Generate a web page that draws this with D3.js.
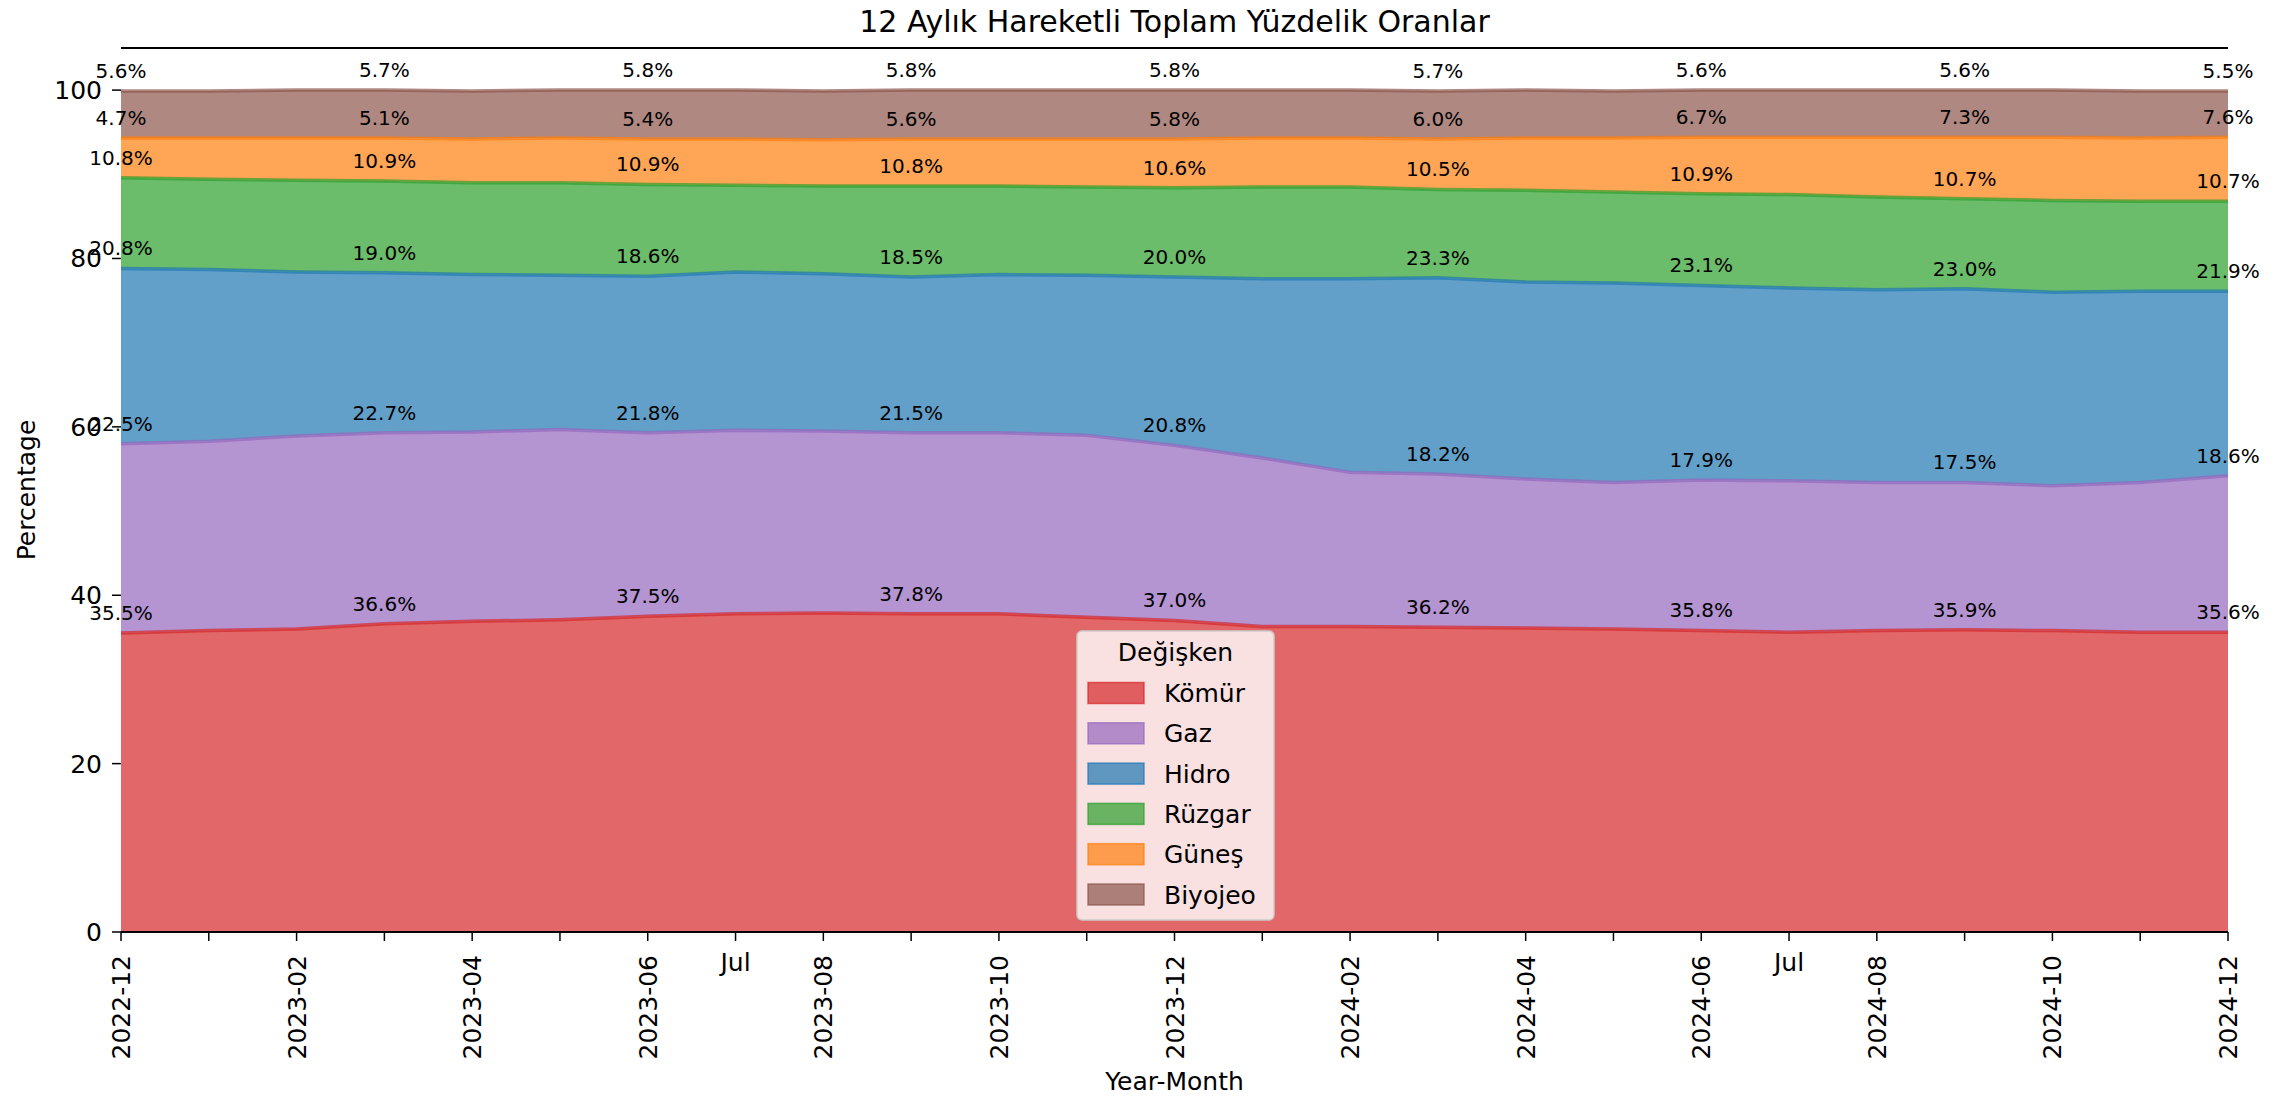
<!DOCTYPE html>
<html><head><meta charset="utf-8">
<script src="https://cdn.jsdelivr.net/npm/d3@7"></script>
<style>
body{margin:0;background:#fff;}
svg text{font-family:"DejaVu Sans",sans-serif;fill:#000;}
</style>
</head><body>
<svg id="chart" width="2287" height="1100"></svg>
<script>
const months = ["2022-12","2023-01","2023-02","2023-03","2023-04","2023-05","2023-06","2023-07","2023-08","2023-09","2023-10","2023-11","2023-12",
  "2024-01","2024-02","2024-03","2024-04","2024-05","2024-06","2024-07","2024-08","2024-09","2024-10","2024-11","2024-12"];
const seriesNames = ["Kömür","Gaz","Hidro","Rüzgar","Güneş","Biyojeo"];
const komur  = [35.5,35.8,36.0,36.6,36.9,37.1,37.5,37.8,37.9,37.8,37.8,37.4,37.0,36.3,36.3,36.2,36.1,36.0,35.8,35.6,35.8,35.9,35.8,35.6,35.6];
const gaz    = [22.5,22.5,22.9,22.7,22.5,22.6,21.8,21.8,21.6,21.5,21.5,21.6,20.8,20.0,18.3,18.2,17.7,17.4,17.9,18.0,17.6,17.5,17.2,17.8,18.6];
const hidro  = [20.8,20.4,19.5,19.0,18.7,18.3,18.6,18.8,18.7,18.5,18.8,19.0,20.0,21.3,23.0,23.3,23.4,23.7,23.1,22.9,22.9,23.0,23.0,22.7,21.9];
const ruzgar = [10.8,10.7,10.9,10.9,10.9,11.0,10.9,10.3,10.4,10.8,10.5,10.5,10.6,10.9,10.9,10.5,10.9,10.8,10.9,11.1,11.0,10.7,10.9,10.7,10.7];
const gunes  = [4.7,4.9,5.0,5.1,5.2,5.3,5.4,5.5,5.5,5.6,5.6,5.7,5.8,5.8,5.8,6.0,6.2,6.4,6.7,6.8,7.1,7.3,7.5,7.5,7.6];
const biyojeo= [5.6,5.6,5.7,5.7,5.7,5.7,5.8,5.8,5.8,5.8,5.8,5.8,5.8,5.7,5.7,5.7,5.7,5.6,5.6,5.6,5.6,5.6,5.6,5.6,5.5];
const colors = ["#d62728","#9467bd","#1f77b4","#2ca02c","#ff7f0e","#8c564b"];
const yTicks = [0,20,40,60,80,100];
const titleText = "12 Aylık Hareketli Toplam Yüzdelik Oranlar";
const xLabelText = "Year-Month";
const yLabelText = "Percentage";
const legendTitle = "Değişken";

const valuesList = [komur,gaz,hidro,ruzgar,gunes,biyojeo];
const rows = months.map((m,i)=>{const r={month:m}; seriesNames.forEach((s,k)=>r[s]=valuesList[k][i]); return r;});

const L=121, R=2228, T=48, B=932;
const svg = d3.select("#chart");
const x = d3.scalePoint().domain(months).range([L,R]);
const y = d3.scaleLinear().domain([0,105]).range([B,T]);

const stacked = d3.stack().keys(seriesNames)(rows);
const area = d3.area().x(d=>x(d.data.month)).y0(d=>y(d[0])).y1(d=>y(d[1]));
const line = d3.line().x(d=>x(d.data.month)).y(d=>y(d[1]));

const g = svg.append("g");
g.selectAll("path.area").data(stacked).join("path")
  .attr("d",area).attr("fill",(d,i)=>colors[i]).attr("fill-opacity",0.7).attr("stroke","none");
g.selectAll("path.line").data(stacked).join("path")
  .attr("d",line).attr("fill","none").attr("stroke",(d,i)=>colors[i]).attr("stroke-opacity",0.7).attr("stroke-width",3.5);

// spines (top & bottom)
svg.append("line").attr("x1",L).attr("x2",R).attr("y1",T).attr("y2",T).attr("stroke","#000").attr("stroke-width",2);
svg.append("line").attr("x1",L).attr("x2",R).attr("y1",B).attr("y2",B).attr("stroke","#000").attr("stroke-width",2);

// y axis
const yAxis = svg.append("g");
yTicks.forEach(t=>{
  yAxis.append("line").attr("x1",L-9).attr("x2",L).attr("y1",y(t)).attr("y2",y(t)).attr("stroke","#000").attr("stroke-width",1.5);
  yAxis.append("text").attr("x",L-19).attr("y",y(t)).attr("dy","0.36em").attr("text-anchor","end").attr("font-size",25).text(t);
});

// x axis ticks
const xAxis = svg.append("g");
months.forEach((m,i)=>{
  const xx = x(m);
  xAxis.append("line").attr("x1",xx).attr("x2",xx).attr("y1",B).attr("y2",B+9).attr("stroke","#000").attr("stroke-width",1.5);
  if(i%2===0){
    xAxis.append("text").attr("transform",`translate(${xx},${B+23}) rotate(-90)`)
      .attr("text-anchor","end").attr("dy","0.36em").attr("font-size",25).text(m);
  }
  if(m.endsWith("-07")){
    xAxis.append("text").attr("x",xx).attr("y",B+39).attr("text-anchor","middle").attr("font-size",25).text("Jul");
  }
});

// value labels every 3 months
const lab = svg.append("g");
stacked.forEach((s,k)=>{
  s.forEach((d,i)=>{
    if(i%3!==0) return;
    lab.append("text").attr("x",x(d.data.month)).attr("y",y(d[1]+1)-4.7)
      .attr("text-anchor","middle").attr("font-size",20).text(d.data[seriesNames[k]].toFixed(1)+"%");
  });
});

// title and axis labels
svg.append("text").attr("x",(L+R)/2).attr("y",32).attr("text-anchor","middle").attr("font-size",30).text(titleText);
svg.append("text").attr("x",(L+R)/2).attr("y",1090).attr("text-anchor","middle").attr("font-size",25).text(xLabelText);
svg.append("text").attr("transform",`translate(35,${(T+B)/2}) rotate(-90)`).attr("text-anchor","middle").attr("font-size",25).text(yLabelText);

// legend
const lg = svg.append("g");
const lx=1077, ly=631, lw=197, lh=289;
lg.append("rect").attr("x",lx).attr("y",ly).attr("width",lw).attr("height",lh).attr("rx",5)
  .attr("fill","#fff").attr("fill-opacity",0.8).attr("stroke","#cccccc").attr("stroke-width",1.5);
lg.append("text").attr("x",lx+lw/2).attr("y",ly+30).attr("text-anchor","middle").attr("font-size",25).text(legendTitle);
seriesNames.forEach((s,i)=>{
  const cy = ly+62+i*40.3;
  lg.append("rect").attr("x",lx+11).attr("y",cy-10.5).attr("width",56).attr("height",21)
    .attr("fill",colors[i]).attr("fill-opacity",0.7).attr("stroke",colors[i]).attr("stroke-opacity",0.7).attr("stroke-width",1.5);
  lg.append("text").attr("x",lx+87).attr("y",cy).attr("dy","0.36em").attr("font-size",25).text(s);
});
</script>
</body></html>
